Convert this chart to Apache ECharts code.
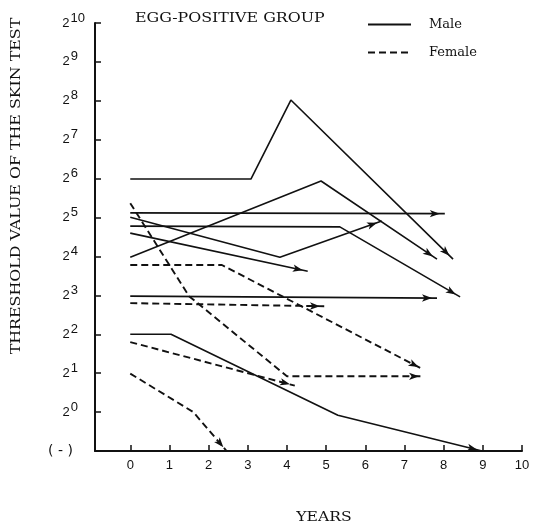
<!DOCTYPE html>
<html>
<head>
<meta charset="utf-8">
<script src="https://cdn.jsdelivr.net/npm/echarts@6/dist/echarts.min.js"></script>
<style>
  html, body { margin: 0; padding: 0; background: #fff; }
  #chart { width: 533px; height: 532px; }
</style>
</head>
<body>
<div id="chart"></div>
<script>
// x: years of follow-up; y: log2 of the skin-test threshold (-1 = negative, "( - )")
const yearTicks = [0, 1, 2, 3, 4, 5, 6, 7, 8, 9, 10];

// Male patients (solid lines)
const male1 = [[0, 5.99], [3.08, 5.99], [4.10, 8.02], [8.24, 3.93]];
const male2 = [[0, 3.98], [4.87, 5.94], [7.83, 3.93]];
const male3 = [[0, 5.12], [8.03, 5.10]];
const male4 = [[0, 4.78], [5.35, 4.76], [8.42, 2.96]];
const male5 = [[0, 5.01], [3.82, 3.98], [6.42, 4.91]];
const male6 = [[0, 4.60], [4.53, 3.62]];
const male7 = [[0, 2.98], [7.83, 2.93]];
const male8 = [[0, 2.00], [1.04, 2.00], [5.30, -0.08], [8.98, -1.00]];

// Female patients (dashed lines)
const female1 = [[0, 5.37], [1.50, 2.98], [4.00, 0.92], [7.50, 0.92]];
const female2 = [[0, 3.78], [2.34, 3.78], [7.47, 1.10]];
const female3 = [[0, 2.80], [4.97, 2.72]];
const female4 = [[0, 1.80], [4.20, 0.68]];
const female5 = [[0, 0.99], [1.61, 0.00], [2.46, -1.00]];

const maleLines = [male1, male2, male3, male4, male5, male6, male7, male8];
const femaleLines = [female1, female2, female3, female4, female5];

const INK = '#111111';
const SANS = '"Liberation Sans", Arial, sans-serif';
const SERIF = '"DejaVu Serif", serif';
const ARROW_LEN = 10;
const ARROW_W = 5.5;

function makeSeries(name, pts, dashed) {
  return {
    type: 'line',
    name: name,
    data: pts.map(p => ({ value: p })),
    symbol: 'none',
    showSymbol: true,
    clip: false,
    silent: true,
    animation: false,
    emphasis: { disabled: true },
    lineStyle: { color: INK, width: dashed ? 1.9 : 1.6, type: dashed ? [7, 4] : 'solid' },
    itemStyle: { color: INK, borderWidth: 0 }
  };
}

const series = [
  ...maleLines.map(l => makeSeries('Male', l, false)),
  ...femaleLines.map(l => makeSeries('Female', l, true))
];

// "2" with the exponent raised; one-digit exponents get a trailing pad so the bases line up
function powerLabel(v) {
  if (v < 0) return '{n|( - )}';
  return '{b|2}{e|' + v + '}' + (v < 10 ? '{p| }' : '');
}

const chart = echarts.init(document.getElementById('chart'), null, { renderer: 'canvas' });

chart.setOption({
  backgroundColor: '#fff',
  animation: false,
  grid: { left: 95, right: 11, top: 23, bottom: 81, containLabel: false },
  legend: {
    data: ['Male', 'Female'],
    orient: 'vertical',
    left: 367,
    top: 18,
    padding: 0,
    itemWidth: 43,
    itemHeight: 14,
    itemGap: 15,
    selectedMode: false,
    itemStyle: { opacity: 0 },
    textStyle: { fontFamily: SERIF, fontSize: 13, color: INK, padding: [0, 0, 0, 13] }
  },
  xAxis: {
    type: 'value',
    min: -0.9,
    max: 10,
    axisLine: { show: true, onZero: false, lineStyle: { color: INK, width: 2 } },
    axisTick: { show: true, inside: true, length: 6, customValues: yearTicks, lineStyle: { color: INK, width: 1.5 } },
    axisLabel: { customValues: yearTicks, margin: 8, fontFamily: SANS, fontSize: 13, color: INK },
    splitLine: { show: false }
  },
  yAxis: {
    type: 'value',
    min: -1,
    max: 10,
    interval: 1,
    axisLine: { show: true, onZero: false, lineStyle: { color: INK, width: 2 } },
    axisTick: { show: true, inside: true, length: 6, lineStyle: { color: INK, width: 1.5 } },
    axisLabel: {
      align: 'right',
      margin: 10,
      formatter: powerLabel,
      rich: {
        b: { fontFamily: SANS, fontSize: 13, color: INK, lineHeight: 14 },
        e: { fontFamily: SANS, fontSize: 13, color: INK, lineHeight: 13, padding: [0, 0, 10, 1] },
        p: { fontFamily: SANS, fontSize: 13, width: 7, lineHeight: 13 },
        n: { fontFamily: '"DejaVu Sans", sans-serif', fontSize: 14, color: INK, padding: [0, 12, 0, 0] }
      }
    },
    splitLine: { show: false }
  },
  graphic: [
    {
      type: 'text', x: 135, y: 19, scaleX: 1.32, silent: true,
      style: { text: 'EGG-POSITIVE GROUP', fontFamily: SERIF, fontSize: 12, fill: INK, align: 'left', verticalAlign: 'middle' }
    },
    {
      type: 'text', x: 17, y: 186, rotation: Math.PI / 2, scaleX: 1.32, silent: true,
      style: { text: 'THRESHOLD VALUE OF THE SKIN TEST', fontFamily: SERIF, fontSize: 12, fill: INK, align: 'center', verticalAlign: 'middle' }
    },
    {
      type: 'text', x: 324, y: 518, scaleX: 1.2, silent: true,
      style: { text: 'YEARS', fontFamily: SERIF, fontSize: 13, fill: INK, align: 'center', verticalAlign: 'middle' }
    }
  ],
  series: series
});

// Arrowheads: orient each end marker along its last segment, tip on the final point
series.forEach(s => {
  const n = s.data.length;
  const a = chart.convertToPixel({ gridIndex: 0 }, s.data[n - 2].value);
  const b = chart.convertToPixel({ gridIndex: 0 }, s.data[n - 1].value);
  const dx = b[0] - a[0], dy = b[1] - a[1];
  const len = Math.hypot(dx, dy) || 1;
  const ux = dx / len, uy = dy / len;
  s.data[n - 1] = {
    value: s.data[n - 1].value,
    symbol: 'arrow',
    symbolSize: [ARROW_W, ARROW_LEN],
    symbolRotate: Math.atan2(-ux, -uy) * 180 / Math.PI,
    symbolOffset: [-ux * ARROW_LEN / 2, -uy * ARROW_LEN / 2]
  };
});
chart.setOption({ series: series });
</script>
</body>
</html>
